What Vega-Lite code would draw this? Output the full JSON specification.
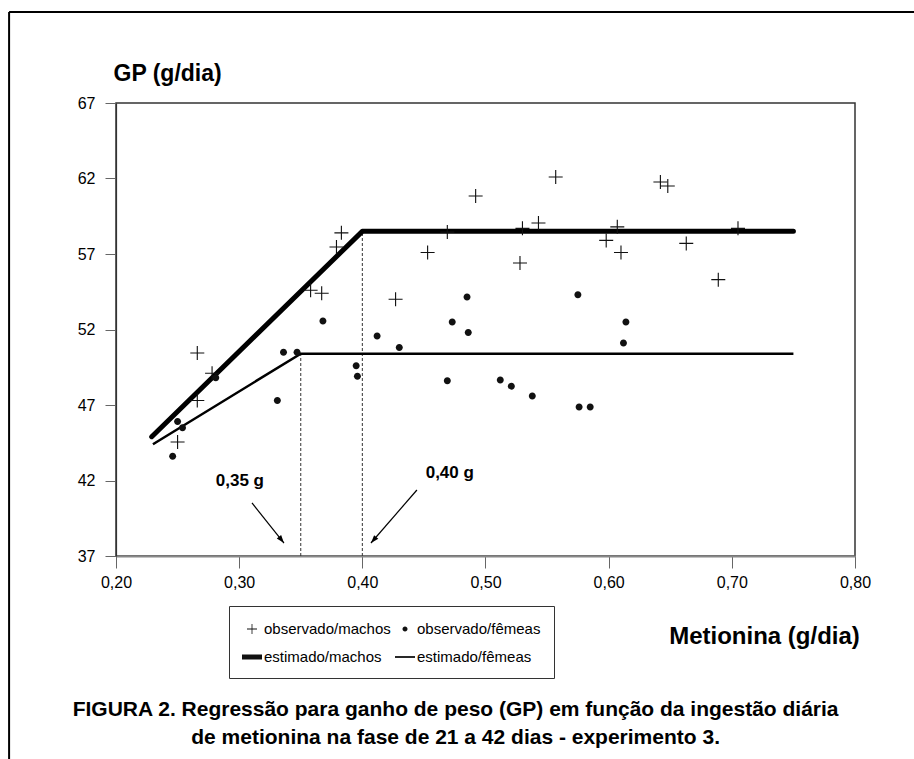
{
  "$schema": "https://vega.github.io/schema/vega-lite/v6.json",
  "width": 739,
  "height": 453,
  "autosize": {"type": "none"},
  "padding": {"left": 116, "top": 103, "right": 59, "bottom": 203},
  "background": "white",
  "config": {
    "font": "Liberation Sans",
    "view": {"stroke": "#333", "strokeWidth": 1.5},
    "axis": {"grid": false, "labelColor": "#000", "titleColor": "#000"}
  },
  "title": {
    "text": ["FIGURA 2. Regressão para ganho de peso (GP) em função da ingestão diária", "de  metionina na fase de 21 a 42 dias - experimento 3."],
    "orient": "bottom",
    "anchor": "middle",
    "frame": "bounds",
    "fontSize": 21,
    "fontWeight": "bold",
    "lineHeight": 28,
    "offset": -61,
    "dx": -6,
    "color": "#000"
  },
  "encoding": {
    "x": {
      "field": "x",
      "type": "quantitative",
      "scale": {"domain": [0.2, 0.8], "nice": false, "zero": false},
      "axis": {
        "values": [0.2, 0.3, 0.4, 0.5, 0.6, 0.7, 0.8],
        "labelExpr": "replace(format(datum.value, '.2f'), '.', ',')",
        "labelFontSize": 16,
        "labelPadding": 6,
        "tickSize": 12,
        "tickColor": "#666",
        "domainColor": "#888",
        "domainWidth": 2,
        "labelFlush": false,
        "title": "Metionina (g/dia)",
        "titleFontSize": 24,
        "titleFontWeight": "bold",
        "titleX": 648,
        "titleY": 80,
        "titleAlign": "center",
        "titleBaseline": "middle"
      }
    },
    "y": {
      "field": "y",
      "type": "quantitative",
      "scale": {"domain": [37, 67], "nice": false, "zero": false},
      "axis": {
        "values": [37, 42, 47, 52, 57, 62, 67],
        "labelFontSize": 16,
        "labelPadding": 10,
        "tickSize": 11,
        "tickColor": "#666",
        "domainColor": "#333",
        "domainWidth": 1.2,
        "labelFlush": false,
        "title": "GP (g/dia)",
        "titleFontSize": 23,
        "titleFontWeight": "bold",
        "titleAngle": 0,
        "titleX": -3,
        "titleY": -30,
        "titleAlign": "left",
        "titleBaseline": "middle"
      }
    }
  },
  "layer": [
    {
      "data": {"values": [
        {"x": 0.1132, "y": 73.03, "x2": 0.848, "y2": 73.03},
        {"x": 0.1132, "y": 73.03, "x2": 0.1132, "y2": 23.56}
      ]},
      "mark": {"type": "rule", "color": "#000", "strokeWidth": 2, "clip": false},
      "encoding": {"x2": {"field": "x2"}, "y2": {"field": "y2"}}
    },
    {
      "data": {"values": [
        {"x": 0.35, "y": 37, "y2": 50.4},
        {"x": 0.40, "y": 37, "y2": 58.5}
      ]},
      "mark": {"type": "rule", "color": "#333", "strokeWidth": 1, "strokeDash": [3, 2]},
      "encoding": {"y2": {"field": "y2"}}
    },
    {
      "data": {"values": [
        {"x": 0.23, "y": 44.4},
        {"x": 0.35, "y": 50.4},
        {"x": 0.75, "y": 50.4}
      ]},
      "mark": {"type": "line", "color": "#000", "strokeWidth": 2.5},
      "encoding": {}
    },
    {
      "data": {"values": [
        {"x": 0.229, "y": 44.9},
        {"x": 0.40, "y": 58.5},
        {"x": 0.75, "y": 58.5}
      ]},
      "mark": {"type": "line", "color": "#000", "strokeWidth": 5, "strokeCap": "round", "strokeJoin": "round"},
      "encoding": {}
    },
    {
      "data": {"values": [
        {"serie": "observado/machos", "x": 0.266, "y": 50.44},
        {"serie": "observado/machos", "x": 0.278, "y": 49.1},
        {"serie": "observado/machos", "x": 0.266, "y": 47.3},
        {"serie": "observado/machos", "x": 0.250, "y": 44.55},
        {"serie": "observado/machos", "x": 0.358, "y": 54.6},
        {"serie": "observado/machos", "x": 0.367, "y": 54.4},
        {"serie": "observado/machos", "x": 0.383, "y": 58.4},
        {"serie": "observado/machos", "x": 0.379, "y": 57.46},
        {"serie": "observado/machos", "x": 0.453, "y": 57.1},
        {"serie": "observado/machos", "x": 0.427, "y": 54.0},
        {"serie": "observado/machos", "x": 0.469, "y": 58.45},
        {"serie": "observado/machos", "x": 0.492, "y": 60.84},
        {"serie": "observado/machos", "x": 0.557, "y": 62.1},
        {"serie": "observado/machos", "x": 0.530, "y": 58.7},
        {"serie": "observado/machos", "x": 0.543, "y": 59.05},
        {"serie": "observado/machos", "x": 0.528, "y": 56.4},
        {"serie": "observado/machos", "x": 0.607, "y": 58.8},
        {"serie": "observado/machos", "x": 0.598, "y": 57.9},
        {"serie": "observado/machos", "x": 0.610, "y": 57.1},
        {"serie": "observado/machos", "x": 0.642, "y": 61.77},
        {"serie": "observado/machos", "x": 0.648, "y": 61.5},
        {"serie": "observado/machos", "x": 0.663, "y": 57.7},
        {"serie": "observado/machos", "x": 0.705, "y": 58.7},
        {"serie": "observado/machos", "x": 0.689, "y": 55.3},
        {"serie": "observado/fêmeas", "x": 0.368, "y": 52.56},
        {"serie": "observado/fêmeas", "x": 0.336, "y": 50.5},
        {"serie": "observado/fêmeas", "x": 0.347, "y": 50.5},
        {"serie": "observado/fêmeas", "x": 0.331, "y": 47.3},
        {"serie": "observado/fêmeas", "x": 0.281, "y": 48.8},
        {"serie": "observado/fêmeas", "x": 0.250, "y": 45.9},
        {"serie": "observado/fêmeas", "x": 0.254, "y": 45.5},
        {"serie": "observado/fêmeas", "x": 0.246, "y": 43.6},
        {"serie": "observado/fêmeas", "x": 0.395, "y": 49.6},
        {"serie": "observado/fêmeas", "x": 0.396, "y": 48.9},
        {"serie": "observado/fêmeas", "x": 0.412, "y": 51.57},
        {"serie": "observado/fêmeas", "x": 0.430, "y": 50.8},
        {"serie": "observado/fêmeas", "x": 0.485, "y": 54.15},
        {"serie": "observado/fêmeas", "x": 0.473, "y": 52.5},
        {"serie": "observado/fêmeas", "x": 0.486, "y": 51.8},
        {"serie": "observado/fêmeas", "x": 0.469, "y": 48.6},
        {"serie": "observado/fêmeas", "x": 0.512, "y": 48.65},
        {"serie": "observado/fêmeas", "x": 0.521, "y": 48.25},
        {"serie": "observado/fêmeas", "x": 0.538, "y": 47.6},
        {"serie": "observado/fêmeas", "x": 0.576, "y": 46.87},
        {"serie": "observado/fêmeas", "x": 0.585, "y": 46.87},
        {"serie": "observado/fêmeas", "x": 0.575, "y": 54.3},
        {"serie": "observado/fêmeas", "x": 0.614, "y": 52.5},
        {"serie": "observado/fêmeas", "x": 0.612, "y": 51.1}
      ]},
      "mark": {"type": "point", "filled": true, "fill": "#111", "strokeWidth": 0, "opacity": 1, "size": 784},
      "encoding": {
        "shape": {
          "field": "serie",
          "type": "nominal",
          "scale": {
            "domain": ["observado/machos", "estimado/machos", "observado/fêmeas", "estimado/fêmeas"],
            "range": [
              "M-0.5,-0.04H-0.04V-0.5H0.04V-0.04H0.5V0.04H0.04V0.5H-0.04V0.04H-0.5Z",
              "M-1,-0.25H1V0.25H-1Z",
              "M-0.25,0A0.25,0.25 0 1,0 0.25,0A0.25,0.25 0 1,0 -0.25,0Z",
              "M-1,-0.09H1V0.09H-1Z"
            ]
          },
          "legend": {
            "orient": "none",
            "legendX": 113,
            "legendY": 503,
            "columns": 2,
            "title": null,
            "labelFontSize": 15,
            "labelColor": "#000",
            "symbolSize": 400,
            "symbolFillColor": "#000",
            "symbolStrokeWidth": 0,
            "strokeColor": "#333",
            "fillColor": "white",
            "padding": 13,
            "rowPadding": 10,
            "columnPadding": 4,
            "labelOffset": 2
          }
        }
      }
    },
    {
      "data": {"values": [
        {"x": 0.3104, "y": 40.51, "x2": 0.3364, "y2": 37.86},
        {"x": 0.4443, "y": 41.37, "x2": 0.407, "y2": 37.86}
      ]},
      "mark": {"type": "rule", "color": "#000", "strokeWidth": 1.2},
      "encoding": {"x2": {"field": "x2"}, "y2": {"field": "y2"}}
    },
    {
      "data": {"values": [{"x": 0.3364, "y": 37.86}]},
      "mark": {"type": "point", "shape": "M0,0L-0.35,1L0.35,1Z", "filled": true, "color": "#000", "opacity": 1, "size": 256, "angle": 141},
      "encoding": {}
    },
    {
      "data": {"values": [{"x": 0.407, "y": 37.86}]},
      "mark": {"type": "point", "shape": "M0,0L-0.35,1L0.35,1Z", "filled": true, "color": "#000", "opacity": 1, "size": 256, "angle": 221},
      "encoding": {}
    },
    {
      "data": {"values": [
        {"label": "0,35 g", "x": 0.3006, "y": 41.97},
        {"label": "0,40 g", "x": 0.471, "y": 42.5}
      ]},
      "mark": {"type": "text", "fontSize": 17, "fontWeight": "bold", "color": "#000", "align": "center", "baseline": "middle"},
      "encoding": {"text": {"field": "label"}}
    }
  ]
}
